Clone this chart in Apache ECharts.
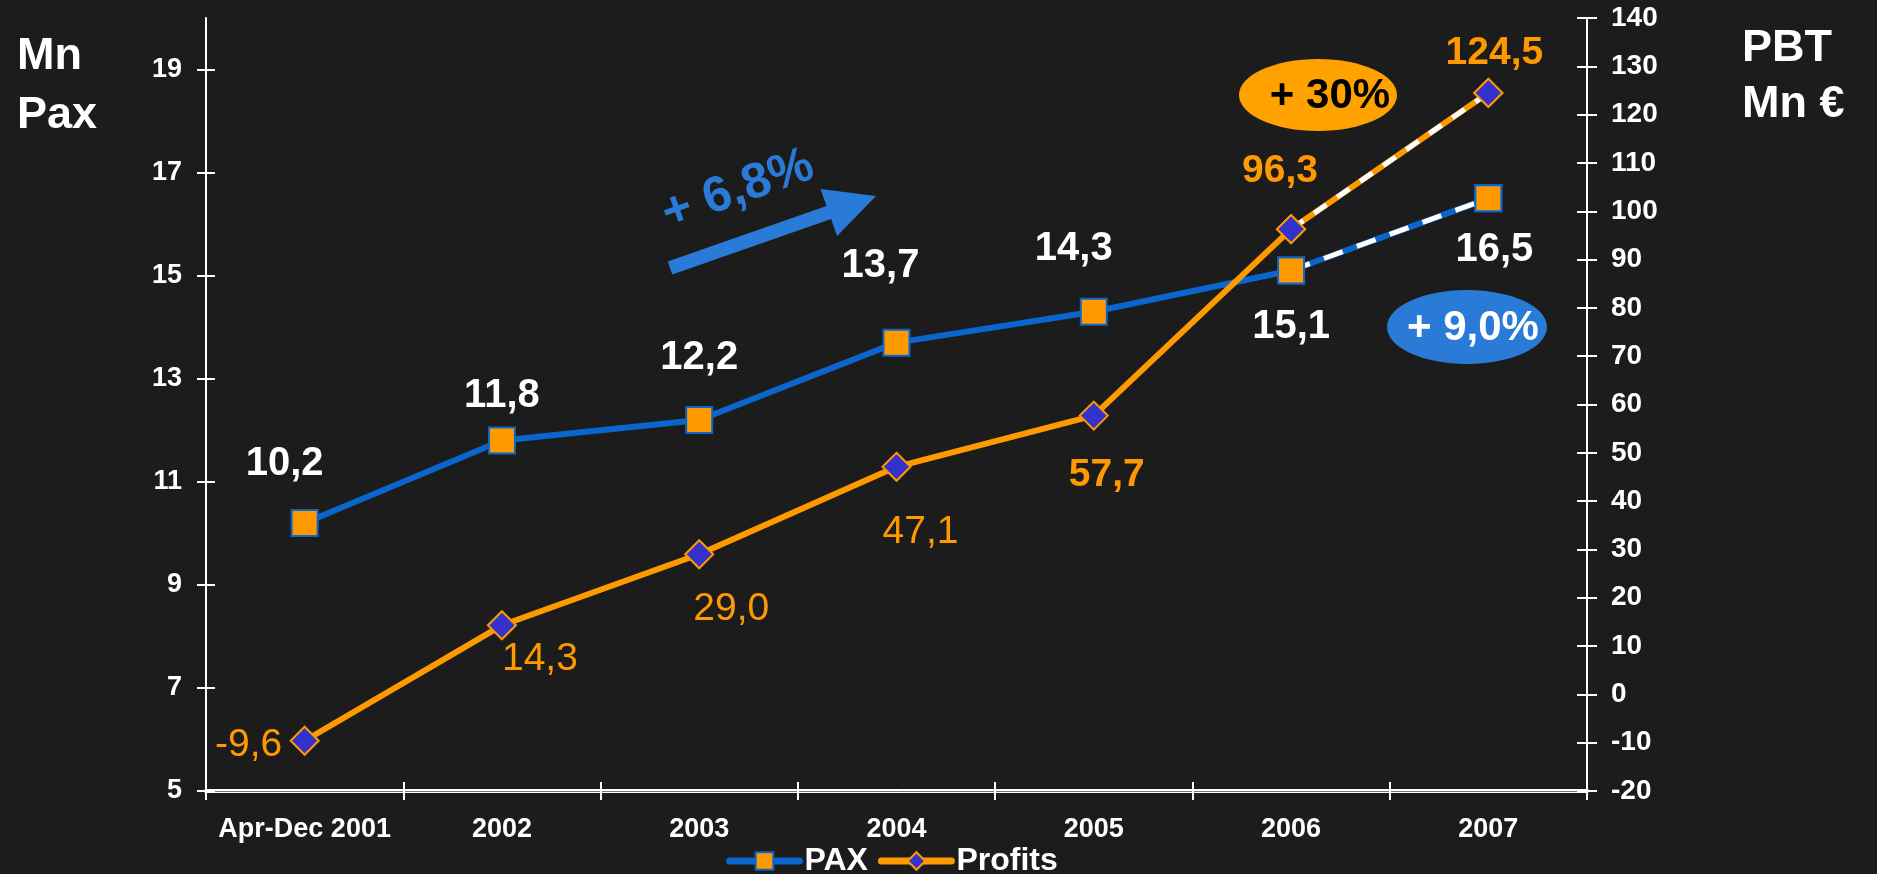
<!DOCTYPE html>
<html>
<head>
<meta charset="utf-8">
<script src="https://cdn.jsdelivr.net/npm/echarts@6/dist/echarts.min.js"></script>
<style>
html,body{margin:0;padding:0;background:#1c1c1c;}
#c{width:1877px;height:874px;}
</style>
</head>
<body>
<div id="c"></div>
<script>
// ---- data ----
const categories = ['Apr-Dec 2001', '2002', '2003', '2004', '2005', '2006', '2007'];
const paxValues = [10.2, 11.8, 12.2, 13.7, 14.3, 15.1, 16.5];
const profitValues = [-9.6, 14.3, 29.0, 47.1, 57.7, 96.3, 124.5];
const paxTicks = [5, 7, 9, 11, 13, 15, 17, 19];
const forecastFrom = 5; // index where the dashed segment begins

// ---- label placement (style, not data) ----
const paxLabelOffsets = [[-20, -59], [0, -45], [0, -62], [-16, -77], [-20, -63], [0, 56], [6, 52]];
const profitLabelOffsets = [[-56, 4], [38, 34], [32, 55], [24, 65], [13, 60], [-11, -58], [6, -40]];
const profitLabelBold = [false, false, false, false, true, true, true];

const FONT = "'Liberation Sans', Arial, sans-serif";
const BLUE = '#0a66cc';
const ORANGE = '#ff9900';
const fmt = v => v.toFixed(1).replace('.', ',');

const paxData = paxValues.map((v, i) => ({
  value: v,
  label: { offset: paxLabelOffsets[i] }
}));
const profitData = profitValues.map((v, i) => ({
  value: v,
  label: { offset: profitLabelOffsets[i], fontWeight: profitLabelBold[i] ? 'bold' : 'normal' }
}));
const paxDash = paxValues.map((v, i) => i >= forecastFrom ? v : null);
const profitDash = profitValues.map((v, i) => i >= forecastFrom ? v : null);

const paxSymbol = { symbol: 'rect', symbolSize: 26, itemStyle: { color: ORANGE, borderColor: BLUE, borderWidth: 2 } };
const profitSymbol = { symbol: 'diamond', symbolSize: 28, itemStyle: { color: '#3333cc', borderColor: ORANGE, borderWidth: 2 } };

const chart = echarts.init(document.getElementById('c'), null, { renderer: 'canvas' });

const option = {
  backgroundColor: '#1c1c1c',
  animation: false,
  textStyle: { fontFamily: FONT },
  grid: { left: 206, right: 290, top: 18, bottom: 83 },
  legend: {
    data: [
      { name: 'PAX', itemStyle: { color: ORANGE, borderColor: BLUE, borderWidth: 2 }, lineStyle: { color: BLUE, width: 7, cap: 'round' } },
      { name: 'Profits', itemStyle: { color: '#3333cc', borderColor: ORANGE, borderWidth: 2 }, lineStyle: { color: ORANGE, width: 7, cap: 'round' } }
    ],
    left: 721, top: 840,
    itemWidth: 70, itemHeight: 22, itemGap: 10,
    textStyle: { color: '#fff', fontSize: 32, fontWeight: 'bold', fontFamily: FONT }
  },
  xAxis: [
    {
      type: 'category', data: categories, position: 'bottom',
      axisLine: { onZero: false, lineStyle: { color: '#fff', width: 4 } },
      axisTick: { show: true, length: 9, lineStyle: { color: '#fff', width: 2 } },
      axisLabel: { interval: 0, color: '#fff', fontSize: 27, fontWeight: 'bold', fontFamily: FONT, margin: 25 },
      splitLine: { show: false }
    },
    {
      type: 'category', data: categories, position: 'bottom',
      axisLine: { onZero: false, lineStyle: { color: '#777', width: 1 } },
      axisTick: { show: true, inside: true, length: 9, lineStyle: { color: '#fff', width: 2 } },
      axisLabel: { show: false },
      splitLine: { show: false }
    }
  ],
  yAxis: [
    {
      type: 'value', position: 'left', min: 5, max: 20,
      axisLine: { show: true, lineStyle: { color: '#fff', width: 2 } },
      axisTick: { show: true, length: 9, customValues: paxTicks, lineStyle: { color: '#fff', width: 2 } },
      axisLabel: { color: '#fff', fontSize: 27, fontWeight: 'bold', fontFamily: FONT, margin: 24, customValues: paxTicks,
                   formatter: v => paxTicks.indexOf(v) >= 0 ? String(v) : '' },
      splitLine: { show: false }
    },
    {
      type: 'value', position: 'right', min: -20, max: 140, interval: 10,
      axisLine: { show: true, lineStyle: { color: '#fff', width: 2 } },
      axisTick: { show: true, length: 10, lineStyle: { color: '#fff', width: 2 } },
      axisLabel: { color: '#fff', fontSize: 28, fontWeight: 'bold', fontFamily: FONT, margin: 24 },
      splitLine: { show: false }
    },
    {
      type: 'value', position: 'left', min: 5, max: 20,
      axisLine: { show: false },
      axisTick: { show: true, inside: true, length: 9, customValues: paxTicks, lineStyle: { color: '#fff', width: 2 } },
      axisLabel: { show: false },
      splitLine: { show: false }
    },
    {
      type: 'value', position: 'right', min: -20, max: 140, interval: 10,
      axisLine: { show: false },
      axisTick: { show: true, inside: true, length: 10, lineStyle: { color: '#fff', width: 2 } },
      axisLabel: { show: false },
      splitLine: { show: false }
    }
  ],
  series: [
    Object.assign({
      name: 'PAX', type: 'line', yAxisIndex: 0, data: paxData, z: 3,
      lineStyle: { color: BLUE, width: 6 },
      label: { show: true, position: 'inside', color: '#fff', fontSize: 40, fontWeight: 'bold', fontFamily: FONT,
               formatter: p => fmt(p.value) }
    }, paxSymbol),
    Object.assign({
      name: 'Profits', type: 'line', yAxisIndex: 1, data: profitData, z: 3,
      lineStyle: { color: ORANGE, width: 6 },
      label: { show: true, position: 'inside', color: ORANGE, fontSize: 39, fontFamily: FONT,
               formatter: p => fmt(p.value) }
    }, profitSymbol),
    Object.assign({
      name: 'PAX forecast', type: 'line', yAxisIndex: 0, data: paxDash, z: 4,
      lineStyle: { color: '#fff', width: 5, type: [20, 15] },
      label: { show: false }, silent: true
    }, paxSymbol),
    Object.assign({
      name: 'Profits forecast', type: 'line', yAxisIndex: 1, data: profitDash, z: 4,
      lineStyle: { color: '#fff', width: 5, type: [15, 13] },
      label: { show: false }, silent: true
    }, profitSymbol)
  ],
  graphic: [
    { type: 'text', x: 17, y: 57, style: { text: 'Mn', fill: '#fff', font: 'bold 45px ' + FONT, align: 'left', verticalAlign: 'middle' } },
    { type: 'text', x: 17, y: 116, style: { text: 'Pax', fill: '#fff', font: 'bold 45px ' + FONT, align: 'left', verticalAlign: 'middle' } },
    { type: 'text', x: 1742, y: 49, style: { text: 'PBT', fill: '#fff', font: 'bold 45px ' + FONT, align: 'left', verticalAlign: 'middle' } },
    { type: 'text', x: 1742, y: 105, style: { text: 'Mn €', fill: '#fff', font: 'bold 45px ' + FONT, align: 'left', verticalAlign: 'middle' } },
    { type: 'ellipse', shape: { cx: 1318, cy: 95, rx: 79, ry: 36 }, style: { fill: '#ffa200' }, z: 10 },
    { type: 'text', x: 1330, y: 96, z: 11, style: { text: '+ 30%', fill: '#000', font: 'bold 42px ' + FONT, align: 'center', verticalAlign: 'middle' } },
    { type: 'ellipse', shape: { cx: 1467, cy: 327, rx: 80, ry: 37 }, style: { fill: '#2a7ad8' }, z: 10 },
    { type: 'text', x: 1473, y: 328, z: 11, style: { text: '+ 9,0%', fill: '#fff', font: 'bold 42px ' + FONT, align: 'center', verticalAlign: 'middle' } },
    { type: 'polygon', z: 10, shape: { points: [[672.3, 274.6], [831.1, 219.1], [837.1, 236.1], [876, 196], [820.5, 188.9], [826.5, 205.9], [667.7, 261.4]] },
      style: { fill: '#2a7ad8' } },
    { type: 'text', x: 738, y: 190, rotation: 0.34, z: 11, style: { text: '+ 6,8%', fill: '#2a7ad8', font: 'bold 50px ' + FONT, align: 'center', verticalAlign: 'middle' } }
  ]
};
chart.setOption(option);
</script>
</body>
</html>
